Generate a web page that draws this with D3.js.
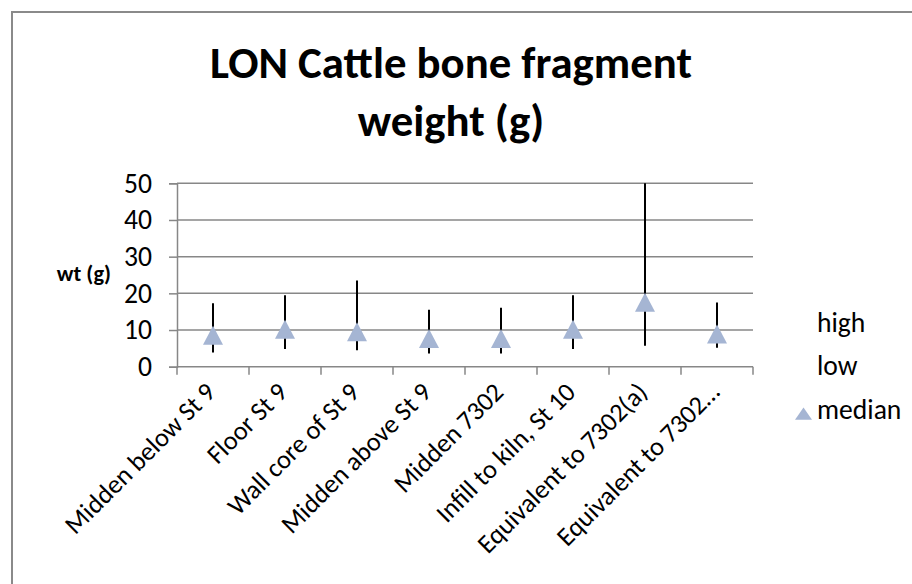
<!DOCTYPE html>
<html>
<head>
<meta charset="utf-8">
<script src="https://cdn.jsdelivr.net/npm/d3@7"></script>
<style>
  body { margin: 0; background: #fff; }
  svg { display: block; overflow: hidden; }
  text { font-family: Calibri, Carlito, Lato, "Open Sans", sans-serif; fill: #000; }
</style>
</head>
<body>
<svg id="chart" width="912" height="584"></svg>
<script>
var categories = ["Midden below St 9", "Floor St 9", "Wall core of St 9", "Midden above St 9",
                  "Midden 7302", "Infill to kiln, St 10", "Equivalent to 7302(a)", "Equivalent to 7302\u2026"];
var highValues   = [17.3, 19.5, 23.5, 15.5, 16.1, 19.5, 50, 17.5];
var lowValues    = [3.9, 4.8, 4.5, 3.6, 3.6, 4.8, 5.7, 5.2];
var medianValues = [8.6, 10.2, 9.5, 7.7, 7.7, 10.2, 17.6, 8.9];
var yTicks = [0, 10, 20, 30, 40, 50];
var legendLabels = ["high", "low", "median"];
var titleLines = ["LON Cattle bone fragment", "weight (g)"];
var yLabel = "wt (g)";

(function(){

    var svg = d3.select("#chart"),
        margin = { top: 183.3, right: 159, bottom: 217.3, left: 177 },
        width = +svg.attr("width") - margin.left - margin.right,
        height = +svg.attr("height") - margin.top - margin.bottom;

    var gridColor = "#878787",
        markColor = "#a5b5d3";

    // outer chart border: only the left and top edges are inside the picture
    svg.append("path")
        .attr("d", "M12,700V12H1000")
        .attr("fill", "none")
        .attr("stroke", "#8a8a8a")
        .attr("stroke-width", 2);

    // work out a base font size so the category labels match the picture
    var probe = svg.append("text").style("font-size", "26px").text("Midden above St 9");
    var baseSize = 26 * 200 / probe.node().getComputedTextLength();
    probe.remove();

    // title, fitted to its width
    var title = svg.append("g").attr("class", "title");
    var t1 = title.append("text").style("font-weight", "bold").style("font-size", "46px").text(titleLines[0]);
    var titleSize = 46 * 482 / t1.node().getComputedTextLength();
    title.selectAll("text").remove();
    title.selectAll("text")
        .data(titleLines)
        .enter().append("text")
        .attr("x", 451)
        .attr("y", function (d, i) { return 78 + i * 58; })
        .attr("text-anchor", "middle")
        .style("font-weight", "bold")
        .style("font-size", titleSize + "px")
        .text(function (d) { return d; });

    var g = svg.append("g").attr("transform", "translate(" + margin.left + "," + margin.top + ")");

    var x = d3.scaleBand().domain(categories).range([0, width]),
        y = d3.scaleLinear().domain([0, 50]).range([height, 0]);

    // gridlines
    g.append("g")
        .selectAll("line")
        .data(yTicks.slice(1))
        .enter().append("line")
        .attr("x1", 0).attr("x2", width)
        .attr("y1", function (d) { return y(d); })
        .attr("y2", function (d) { return y(d); })
        .attr("stroke", gridColor)
        .attr("stroke-width", 1.5);

    // y axis
    var yAxis = g.append("g")
        .call(d3.axisLeft(y).tickValues(yTicks).tickSize(8).tickPadding(17));
    yAxis.select(".domain").attr("stroke", gridColor).attr("stroke-width", 1.5);
    yAxis.selectAll(".tick line").attr("stroke", gridColor).attr("stroke-width", 1.5);
    yAxis.selectAll(".tick text")
        .style("font-size", (baseSize * 1.05) + "px")
        .style("font-family", null);

    // x axis (ticks at category boundaries)
    var xAxisG = g.append("g").attr("transform", "translate(0," + height + ")");
    xAxisG.append("line")
        .attr("x1", 0).attr("x2", width)
        .attr("stroke", gridColor).attr("stroke-width", 1.5);
    xAxisG.selectAll(".xt")
        .data(categories.concat(["end"]))
        .enter().append("line")
        .attr("class", "xt")
        .attr("x1", function (d, i) { return i * x.step(); })
        .attr("x2", function (d, i) { return i * x.step(); })
        .attr("y1", 0).attr("y2", 8)
        .attr("stroke", gridColor).attr("stroke-width", 1.5);

    xAxisG.selectAll(".xl")
        .data(categories)
        .enter().append("text")
        .attr("class", "xl")
        .attr("text-anchor", "end")
        .attr("transform", function (d) {
            return "translate(" + (x(d) + x.bandwidth() / 2 + 4) + ",27) rotate(-45)";
        })
        .style("font-size", baseSize + "px")
        .text(function (d) { return d; });

    // y axis title
    svg.append("text")
        .attr("x", 111)
        .attr("y", 281)
        .attr("text-anchor", "end")
        .style("font-weight", "bold")
        .style("font-size", (baseSize * 0.85) + "px")
        .text(yLabel);

    // high-low lines
    g.selectAll(".hilo")
        .data(categories)
        .enter().append("line")
        .attr("class", "hilo")
        .attr("x1", function (d) { return x(d) + x.bandwidth() / 2; })
        .attr("x2", function (d) { return x(d) + x.bandwidth() / 2; })
        .attr("y1", function (d, i) { return y(lowValues[i]); })
        .attr("y2", function (d, i) { return y(highValues[i]); })
        .attr("stroke", "#000")
        .attr("stroke-width", 2);

    // median markers (triangle centred in its box)
    var tri = "M0,-9.5L10,9.5L-10,9.5Z";
    g.selectAll(".median")
        .data(categories)
        .enter().append("path")
        .attr("class", "median")
        .attr("d", tri)
        .attr("transform", function (d, i) {
            return "translate(" + (x(d) + x.bandwidth() / 2) + "," + y(medianValues[i]) + ")";
        })
        .attr("fill", markColor);

    // legend
    var legend = svg.selectAll(".legend")
        .data(legendLabels)
        .enter().append("g")
        .attr("class", "legend")
        .attr("transform", function (d, i) { return "translate(817," + (332 + i * 43.3) + ")"; });

    legend.append("text")
        .style("font-size", (baseSize * 1.05) + "px")
        .text(function (d) { return d; });

    legend.filter(function (d) { return d === "median"; })
        .append("path")
        .attr("d", "M0,-6.2L8.5,6.2L-8.5,6.2Z")
        .attr("transform", "translate(-13.5,-5)")
        .attr("fill", markColor);

})();
</script>
</body>
</html>
